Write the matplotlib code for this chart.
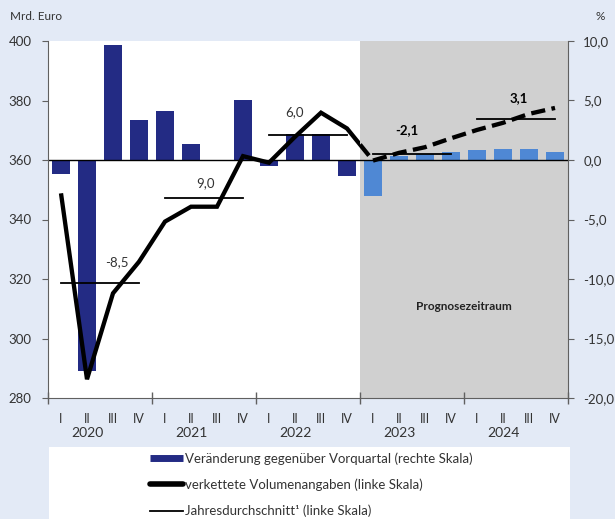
import matplotlib.pyplot as plt
from matplotlib.lines import Line2D
from matplotlib.patches import Rectangle

plt.rcParams['font.family'] = ['Lato', 'DejaVu Sans']

# quarters 2020 I .. 2024 IV
quarters = ['I', 'II', 'III', 'IV'] * 5
years = ['2020', '2021', '2022', '2023', '2024']

# change vs previous quarter, % (right scale)
bars_hist = [-1.2, -17.7, 9.7, 3.4, 4.1, 1.35, -0.1, 5.0, -0.5, 2.2, 2.15, -1.35]
bars_prog = [-3.0, 0.3, 0.5, 0.65, 0.85, 0.9, 0.9, 0.7]

# chained volumes, bn euro (left scale)
volume = [348.8, 286.3, 315.2, 325.8, 339.3, 344.3, 344.3, 361.3, 359.1, 367.8,
          375.9, 370.6, 359.8, 362.4, 364.3, 367.3, 370.1, 372.5, 375.5, 377.5]

# annual averages (left scale) and growth labels
year_avg = [318.8, 347.1, 368.4, 362.0, 373.8]
year_lbl = ['-8,5', '9,0', '6,0', '-2,1', '3,1']

left_ticks = [280, 300, 320, 340, 360, 380, 400]
right_ticks = [-20, -15, -10, -5, 0, 5, 10]
right_lbl = ['-20,0', '-15,0', '-10,0', '-5,0', '0,0', '5,0', '10,0']

bg = '#E3EAF6'
navy = '#232B84'
light = '#4F88D4'
grey = '#D0D0D0'
axc = '#606060'
txt = '#333333'

fig = plt.figure(figsize=(6.15, 5.19), dpi=100, facecolor=bg)
ax = fig.add_axes([48/615, 1-398/519, 520/615, 357/519])
ax2 = ax.twinx()
ax.set_zorder(ax2.get_zorder() + 1)
ax.patch.set_visible(False)
ax2.patch.set_visible(True)
ax2.set_facecolor('white')

n = len(quarters)
nh = len(bars_hist)
x = list(range(n))

# right axis: bars, forecast shading, zero line
ax2.axvspan(nh - 0.5, n - 0.5, color=grey, zorder=0, lw=0)
ax2.bar(x[:nh], bars_hist, width=0.66, color=navy, zorder=1)
ax2.bar(x[nh:], bars_prog, width=0.66, color=light, zorder=1)
ax2.axhline(0, color='black', lw=1, zorder=2)
ax2.set_ylim(-20, 10)
ax2.set_yticks(right_ticks)
ax2.set_yticklabels(right_lbl)

# left axis: volumes and annual averages
ax.set_xlim(-0.5, n - 0.5)
ax.set_ylim(280, 400)
ax.set_yticks(left_ticks)

clip_a = Rectangle((-0.5, 270), nh, 140, transform=ax.transData)
clip_b = Rectangle((nh - 0.5, 270), n - nh, 140, transform=ax.transData)
l1, = ax.plot(x[:nh + 1], volume[:nh + 1], color='black', lw=3.1,
              solid_joinstyle='miter', solid_capstyle='butt', zorder=3)
l1.set_clip_path(clip_a)
l2, = ax.plot(x[nh - 1:], volume[nh - 1:], color='black', lw=3.1,
              ls=(0, (3.3, 1.5)), dash_capstyle='butt', zorder=3)
l2.set_clip_path(clip_b)

for k, v in enumerate(year_avg):
    ax.plot([4*k, 4*k + 3], [v, v], color='black', lw=1.3, zorder=3)

lbl_pos = [(2.15, 325.8), (5.55, 352.3), (9.0, 376.2), (13.3, 370.1), (17.6, 380.8)]
for k, (px, py) in enumerate(lbl_pos):
    bold = k >= 3
    ax.text(px, py, year_lbl[k], ha='center', va='center', fontsize=9.5,
            color=txt if not bold else 'black',
            fontweight='bold' if bold else 'normal', zorder=4)

ax.text(15.5, 310.7, 'Prognosezeitraum', ha='center', va='center',
        fontsize=8.5, fontweight='bold', color='#222222')

# axes styling
for a in (ax, ax2):
    a.spines['top'].set_visible(False)
    for s in a.spines.values():
        s.set_color(axc)
ax.spines['right'].set_visible(False)
ax2.spines['left'].set_visible(False)
ax2.spines['bottom'].set_visible(False)

ax.set_xticks([-0.5 + 4*k for k in range(6)])
ax.set_xticklabels([])
ax.set_xticks(x, minor=True)
ax.set_xticklabels(quarters, minor=True)
ax.tick_params(axis='x', which='major', direction='inout', length=9,
               color=axc, width=1)
ax.tick_params(axis='x', which='minor', length=0, pad=11, labelsize=9,
               labelcolor=txt)
ax.tick_params(axis='y', direction='out', length=4, color=axc, pad=8,
               labelsize=9.5, labelcolor=txt)
ax2.tick_params(axis='y', direction='out', length=4, color=axc, pad=7,
                labelsize=9.5, labelcolor=txt)

for k, yr in enumerate(years):
    ax.text(4*k + 1, -0.098, yr, transform=ax.get_xaxis_transform(),
            ha='center', va='center', fontsize=10, color=txt)

fig.text(10/615, 1-17/519, 'Mrd. Euro', ha='left', va='center', fontsize=8.5, color=txt)
fig.text(600/615, 1-17/519, '%', ha='center', va='center', fontsize=8.5, color=txt)

# legend box
fig.patches.append(Rectangle((49/615, 0), 521/615, 1-447/519, transform=fig.transFigure,
                             facecolor='white', edgecolor='none', zorder=0))
handles = [Line2D([], [], color=navy, lw=5, solid_capstyle='butt'),
           Line2D([], [], color='black', lw=4, solid_capstyle='round'),
           Line2D([], [], color='black', lw=1.3)]
labels = ['Veränderung gegenüber Vorquartal (rechte Skala)',
          'verkettete Volumenangaben (linke Skala)',
          'Jahresdurchschnitt\u00b9 (linke Skala)']
fig.legend(handles, labels, loc='upper left', bbox_to_anchor=(150/615, 1-452/519),
           frameon=False, fontsize=9.5, handlelength=2.5, handletextpad=0.15,
           borderpad=0, borderaxespad=0, labelspacing=1.05, labelcolor=txt)

fig.savefig('out.png', dpi=100, facecolor=bg)
